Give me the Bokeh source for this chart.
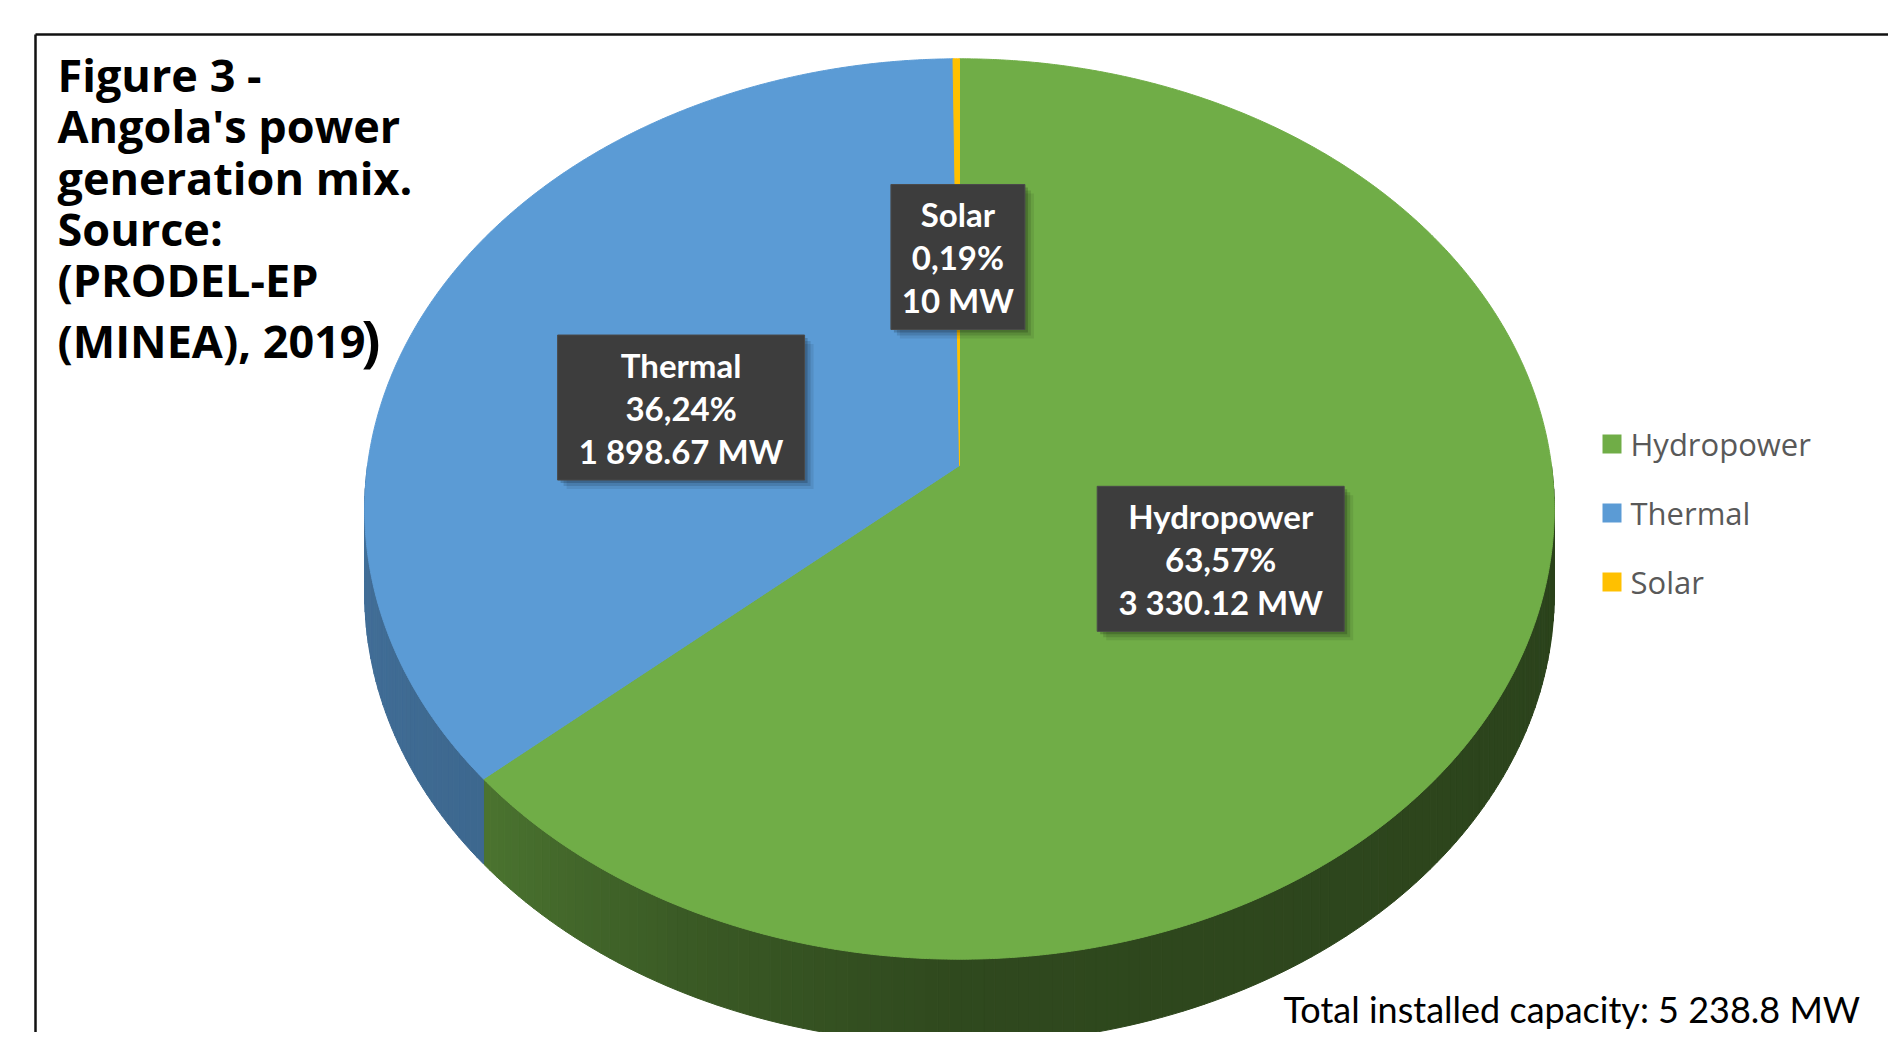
import math
import numpy as np
from bokeh.plotting import figure
from bokeh.models import Range1d
from bokeh.core.properties import value
from bokeh.embed import file_html
from bokeh.resources import INLINE

# ---------------- data ----------------
categories = ["Hydropower", "Thermal", "Solar"]
capacity_mw = [3330.12, 1898.67, 10.0]
slice_colors = ["#70AD47", "#5B9BD5", "#FFC000"]
title_lines = ["Figure 3 -", "Angola's power", "generation mix.", "Source:",
               "(PRODEL-EP", "(MINEA), 2019"]
total_caption = "Total installed capacity"

# ---------------- layout ----------------
W, H = 1888, 1032
CX, CY = 959.0, 465.0          # pie apex (pixels)
A, B, K = 592.0, 446.0, 0.0966  # projection of the disk (perspective)
DEPTH = 85.0
LABEL_R = 0.47
LABEL_NUDGE = [(3, 5), (-29, 26), (0, -8)]
BOX_W = [247, 247, 134]
BOX_H = 145
LINE_GAP = 43


def proj(theta_deg, r=1.0):
    t = np.radians(np.asarray(theta_deg, dtype=float))
    u = r * np.sin(t)
    z = r * np.cos(t)
    d = 1.0 + K * z
    return CX + A * u / d, CY - B * z / d


def shade(hex_color, f):
    h = hex_color.lstrip("#")
    rgb = [int(h[i:i + 2], 16) for i in (0, 2, 4)]
    return "#%02x%02x%02x" % tuple(max(0, min(255, int(round(c * f)))) for c in rgb)


def side_factor(theta):
    pts = [(90, 0.38), (180, 0.42), (205, 0.52), (229, 0.67), (270, 0.72)]
    xs_, fs_ = zip(*pts)
    return float(np.interp(theta, xs_, fs_))


total = sum(capacity_mw)
fracs = [c / total for c in capacity_mw]
starts, ends = [], []
acc = 0.0
for f in fracs:
    starts.append(acc * 360.0)
    acc += f
    ends.append(acc * 360.0)

p = figure(width=W, height=H, x_range=Range1d(0, W), y_range=Range1d(H, 0),
           output_backend="svg", toolbar_location=None, min_border=0,
           x_axis_location=None, y_axis_location=None)
p.grid.visible = False
p.outline_line_color = None
p.background_fill_color = "white"
p.border_fill_color = "white"

# frame lines of the figure box
p.segment(x0=[35, 35], y0=[34, 34], x1=[2000, 35], y1=[34, 1100],
          line_color="#111111", line_width=2.5)

# ---- pie side (front rim) ----
sxs, sys_, scol = [], [], []
for i in range(len(categories)):
    a, b = max(starts[i], 90.0), min(ends[i], 270.0)
    if a >= b:
        continue
    n = max(1, int(math.ceil((b - a) / 1.0)))
    edges = np.linspace(a, b, n + 1)
    for j in range(n):
        t0, t1 = edges[j], edges[j + 1]
        x0, y0 = proj(t0)
        x1, y1 = proj(t1)
        sxs.append([float(x0), float(x1), float(x1), float(x0)])
        sys_.append([float(y0), float(y1), float(y1) + DEPTH, float(y0) + DEPTH])
        scol.append(shade(slice_colors[i], side_factor((t0 + t1) / 2)))
p.patches(xs=sxs, ys=sys_, fill_color=scol, line_color=scol, line_width=1)

# ---- pie top ----
for i in range(len(categories)):
    s, e = starts[i], ends[i]
    th = np.linspace(s, e, max(3, int((e - s) / 0.25) + 2))
    rx, ry = proj(th)
    xs = [CX] + list(rx)
    ys = [CY] + list(ry)
    p.patch(x=xs, y=ys, fill_color=slice_colors[i], line_color=slice_colors[i],
            line_width=1)

# ---- data labels ----
def fmt_mw(v):
    if abs(v - round(v)) < 1e-9:
        s = f"{int(round(v)):,}"
    else:
        s = f"{v:,.2f}"
    return s.replace(",", " ") + " MW"


for i in range(len(categories)):
    mid = (starts[i] + ends[i]) / 2
    lx, ly = proj(mid, LABEL_R)
    lx = float(lx) + LABEL_NUDGE[i][0]
    ly = float(ly) + LABEL_NUDGE[i][1]
    pct = f"{fracs[i] * 100:.2f}".replace(".", ",") + "%"
    lines = [categories[i], pct, fmt_mw(capacity_mw[i])]
    for off, al in [(9, 0.08), (6, 0.12), (3, 0.18)]:
        p.rect(x=[lx + off], y=[ly + off], width=BOX_W[i], height=BOX_H,
               fill_color="black", fill_alpha=al, line_color=None)
    p.rect(x=[lx], y=[ly], width=BOX_W[i], height=BOX_H,
           fill_color="#3d3d3d", line_color="#4a4a4a", line_width=1)
    p.text(x=[lx] * 3, y=[ly - LINE_GAP, ly, ly + LINE_GAP], text=lines,
           text_font=value("Lato"), text_font_style="bold", text_font_size="33px",
           text_color="white", text_align="center", text_baseline="middle")

# ---- legend ----
LEG_X, LEG_Y0, LEG_DY = 1611.5, 443.5, 69
ly_list = [LEG_Y0 + LEG_DY * i for i in range(len(categories))]
p.rect(x=[LEG_X] * len(categories), y=ly_list, width=19, height=19,
       fill_color=slice_colors, line_color=None)
p.text(x=[1630] * len(categories), y=ly_list, text=categories,
       text_font=value("Open Sans"), text_font_size="31px", text_color="#595959",
       text_align="left", text_baseline="middle")

# ---- title block ----
title_mid = [74, 125, 177, 228, 279, 340]
p.text(x=[57] * len(title_lines), y=title_mid, text=title_lines,
       text_font=value("Open Sans"), text_font_style="bold", text_font_size="45px",
       text_color="black", text_align="left", text_baseline="middle")
p.text(x=[361], y=[338], text=[")"],
       text_font=value("Open Sans"), text_font_style="bold", text_font_size="56px",
       text_color="black", text_align="left", text_baseline="middle")

# ---- total ----
total_txt = f"{total_caption}: " + f"{total:,.1f}".replace(",", " ") + " MW"
p.text(x=[1283], y=[1008], text=[total_txt],
       text_font=value("Lato"), text_font_size="36px", text_color="black",
       text_align="left", text_baseline="middle")

open("out.html", "w").write(file_html(p, INLINE))
